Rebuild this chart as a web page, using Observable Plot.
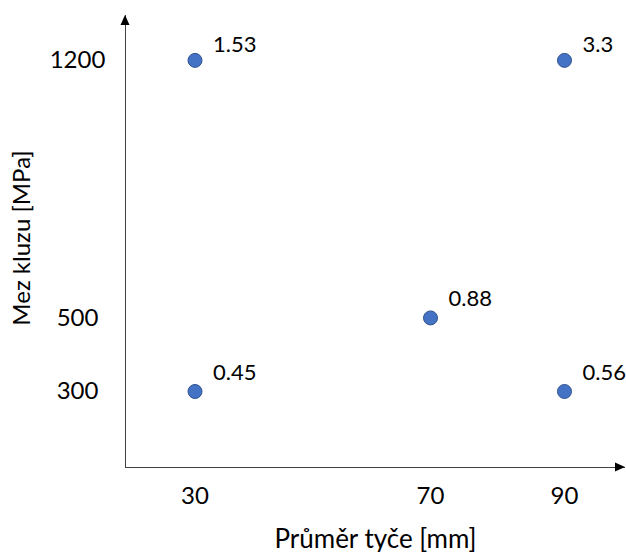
<!DOCTYPE html>
<html>
<head>
<meta charset="utf-8">
<script src="https://cdn.jsdelivr.net/npm/d3@7"></script>
<script src="https://cdn.jsdelivr.net/npm/@observablehq/plot@0.6"></script>
<style>
  body { margin: 0; background: #fff; }
  svg { display: block; }
</style>
</head>
<body>
<div id="chart"></div>
<script>
// Bar diameter [mm], yield strength [MPa] and the ratio shown beside each point
const diameters = [30, 30, 70, 90, 90];
const yieldStrengths = [1200, 300, 500, 1200, 300];
const valueLabels = ["1.53", "0.45", "0.88", "3.3", "0.56"];
const xTicks = [30, 70, 90];
const yTicks = [300, 500, 1200];
const xTitle = "Průměr tyče [mm]";
const yTitle = "Mez kluzu [MPa]";

const points = diameters.map((d, i) => ({ d, s: yieldStrengths[i], label: valueLabels[i] }));
const topStrength = d3.max(yieldStrengths);

const font = "Lato, 'Open Sans', sans-serif";
// piecewise x scale: the three diameters are spaced unevenly along the axis
const xDomain = [18.2, 30, 70, 90, 99.1];
const xRange = [125, 194.5, 430, 564, 625];
const yDomain = [93.4, 1322];

const labelStyle = { x: "d", y: "s", text: "label", textAnchor: "start", dx: 18, fontSize: 22, fill: "#000" };

const plot = Plot.plot({
  width: 626,
  height: 552,
  marginLeft: 125,
  marginRight: 1,
  marginTop: 15,
  marginBottom: 85,
  style: { fontFamily: font, background: "#fff", color: "#000" },
  x: { type: "linear", domain: xDomain, range: xRange, axis: null },
  y: { type: "linear", domain: yDomain, range: [467, 15], axis: null },
  marks: [
    Plot.ruleX([xDomain[0]], { stroke: "#404040", strokeWidth: 1 }),
    Plot.ruleY([yDomain[0]], { stroke: "#404040", strokeWidth: 1 }),
    Plot.axisX(xTicks, { label: null, tickSize: 0, tickPadding: 19, fontSize: 24, tickFormat: d => String(d) }),
    Plot.axisY(yTicks, { label: null, tickSize: 0, tickPadding: 48, textAnchor: "middle", fontSize: 24, tickFormat: d => String(d) }),
    Plot.dot(points, { x: "d", y: "s", r: 7, fill: "#4472C4", stroke: "#2F528F", strokeWidth: 1 }),
    // labels of the top row sit a little closer to their points
    Plot.text(points, { ...labelStyle, filter: p => p.s === topStrength, dy: -15 }),
    Plot.text(points, { ...labelStyle, filter: p => p.s !== topStrength, dy: -19 }),
    Plot.text([xTitle], { text: d => d, frameAnchor: "bottom", textAnchor: "middle", dy: 80, fontSize: 26, fill: "#000" }),
    Plot.text([yTitle], { text: d => d, frameAnchor: "left", textAnchor: "middle", rotate: -90, dx: -103, dy: -3.5, fontSize: 24, fill: "#000" })
  ]
});

// filled arrowheads at the ends of both axes
const sx = plot.scale("x"), sy = plot.scale("y");
const ox = sx.apply(xDomain[0]), oy = sy.apply(yDomain[0]);
const tipY = sy.apply(yDomain[1]);
const tipX = sx.apply(xDomain[xDomain.length - 1]);
const svg = d3.select(plot);
svg.append("path")
  .attr("d", `M${ox},${tipY}L${ox - 4.5},${tipY + 10}L${ox + 4.5},${tipY + 10}Z`)
  .attr("fill", "#000");
svg.append("path")
  .attr("d", `M${tipX},${oy}L${tipX - 10},${oy - 4.5}L${tipX - 10},${oy + 4.5}Z`)
  .attr("fill", "#000");

document.getElementById("chart").append(plot);
</script>
</body>
</html>
